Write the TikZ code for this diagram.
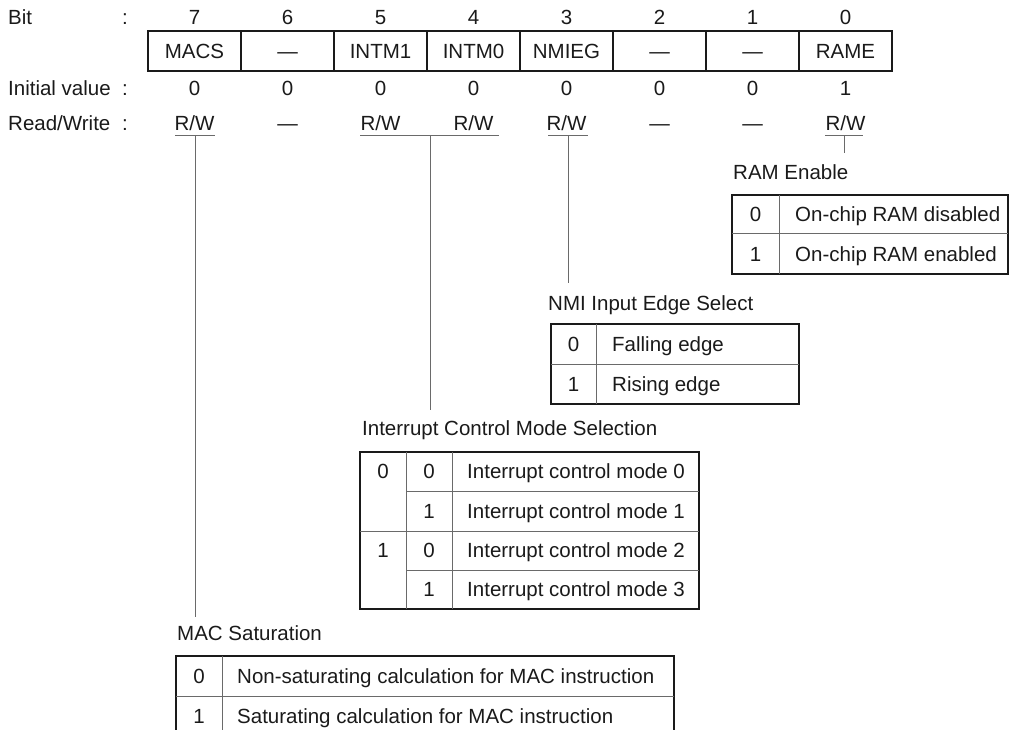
\documentclass[tikz,border=0pt]{standalone}
\usepackage{fontspec}
\setmainfont{Liberation Sans}
\usetikzlibrary{positioning}
\definecolor{ink}{HTML}{1A1A1A}
\definecolor{rule}{HTML}{6A6A6A}
\newcommand{\rwacc}{R/W}

\begin{document}
\begin{tikzpicture}[x=1pt, y=-1pt,
  every node/.style={font=\fontsize{20.5}{24}\selectfont, text=ink, inner sep=0pt, text height=14.7pt, text depth=0pt},
  regcell/.style={draw=ink, line width=1.2pt, minimum width=93pt, minimum height=40pt},
  hdr/.style={anchor=west},
  lead/.style={draw=rule, line width=1pt},
  frame/.style={draw=ink, line width=1.2pt},
  grid/.style={draw=rule, line width=1pt},
]
\useasboundingbox (0,0) rectangle (1010,730);

% row labels
\node[hdr] (lbit) at (8,17) {Bit};
\node[hdr] (linit) at (8,88) {Initial value};
\node[hdr] (lrw) at (8,123) {Read/Write};
\node (cbit) at (125,17) {:};
\node (cinit) at (125,88) {:};
\node (crw) at (125,123) {:};

% register
\foreach \b/\f/\v/\a [count=\i from 0] in {7/MACS/0/\rwacc, 6/—/0/—, 5/INTM1/0/\rwacc, 4/INTM0/0/\rwacc,
    3/NMIEG/0/\rwacc, 2/—/0/—, 1/—/0/—, 0/RAME/1/\rwacc} {
  \node[regcell] (reg\b) at (194.5+93*\i,51) {\f};
  \node (num\b) at (reg\b |- lbit) {\b};
  \node (ini\b) at (reg\b |- linit) {\v};
  \node (acc\b) at (reg\b |- lrw) {\a};
}

% underlines
\draw[lead] (175,136) -- (215,136);
\draw[lead] (360,136) -- (499,136);
\draw[lead] (548,136) -- (588,136);
\draw[lead] (825,136) -- (863,136);
\coordinate (tap7) at (195,136);
\coordinate (tap54) at (430,136);
\coordinate (tap3) at (568,136);
\coordinate (tap0) at (844,136);
\coordinate (end7) at (195,617);
\coordinate (end54) at (430,410);
\coordinate (end3) at (568,283);
\coordinate (end0) at (844,153);
\draw[lead] (tap7) -- (end7);
\draw[lead] (tap54) -- (end54);
\draw[lead] (tap3) -- (end3);
\draw[lead] (tap0) -- (end0);

% RAM Enable
\node[hdr] (ramtitle) at (733,172) {RAM Enable};
\draw[frame] (732,195) rectangle (1008,274);
\draw[grid] (732,234) -- (1008,234) (779,195) -- (779,274);
\node (ram0) at (755.5,214.5) {0};
\node[hdr] (ram0t) at (795,214.5) {On-chip RAM disabled};
\node (ram1) at (755.5,254) {1};
\node[hdr] (ram1t) at (795,254) {On-chip RAM enabled};

% NMI Input Edge Select
\node[hdr] (nmititle) at (548,303) {NMI Input Edge Select};
\draw[frame] (551,324) rectangle (799,404);
\draw[grid] (551,364) -- (799,364) (596,324) -- (596,404);
\node (nmi0) at (573.5,344) {0};
\node[hdr] (nmi0t) at (612,344) {Falling edge};
\node (nmi1) at (573.5,384) {1};
\node[hdr] (nmi1t) at (612,384) {Rising edge};

% Interrupt Control Mode Selection
\node[hdr] (inttitle) at (362,428) {Interrupt Control Mode Selection};
\draw[frame] (360,452) rectangle (699,609);
\draw[grid] (406,491) -- (699,491) (360,531) -- (699,531) (406,570) -- (699,570)
  (406,452) -- (406,609) (452,452) -- (452,609);
\node (inthi0) at (383,471) {0};
\node (inthi1) at (383,550.5) {1};
\foreach \lo/\m/\y in {0/0/471, 1/1/511, 0/2/550.5, 1/3/589.5} {
  \node (intlo\m) at (429,\y) {\lo};
  \node[hdr] (intm\m) at (467,\y) {Interrupt control mode \m};
}

% MAC Saturation
\node[hdr] (mactitle) at (177,633) {MAC Saturation};
\draw[frame] (176,730) -- (176,656) -- (674,656) -- (674,730);
\draw[grid] (176,696) -- (674,696) (222,656) -- (222,730);
\node (mac0) at (199,676) {0};
\node[hdr] (mac0t) at (237,676) {Non-saturating calculation for MAC instruction};
\node (mac1) at (199,716) {1};
\node[hdr] (mac1t) at (237,716) {Saturating calculation for MAC instruction};
\end{tikzpicture}
\end{document}
